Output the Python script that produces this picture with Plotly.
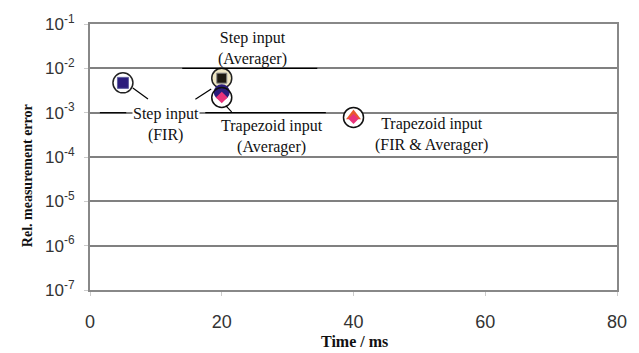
import plotly.graph_objects as go

# Data
fir_step_x = [5]
fir_step_y = [4.7e-3]
avg_step_x = [20]
avg_step_y = [6.0e-3]
avg_step2_x = [20]
avg_step2_y = [2.9e-3]
trap_avg_x = [20]
trap_avg_y = [2.2e-3]
trap_both_x = [40]
trap_both_y = [7.8e-4]

ytick_vals = [1e-7, 1e-6, 1e-5, 1e-4, 1e-3, 1e-2, 1e-1]
ytick_text = ["10<sup>-7</sup>", "10<sup>-6</sup>", "10<sup>-5</sup>", "10<sup>-4</sup>",
              "10<sup>-3</sup>", "10<sup>-2</sup>", "10<sup>-1</sup>"]
xtick_vals = [0, 20, 40, 60, 80]

navy = "#2b1d7c"
serif = "Liberation Serif, Times New Roman, serif"
fig = go.Figure()

def add(x, y, symbol, size, color, line_color=None, line_width=0):
    fig.add_trace(go.Scatter(x=x, y=y, mode="markers", showlegend=False, hoverinfo="skip",
                             marker=dict(symbol=symbol, size=size, color=color,
                                         line=dict(color=line_color or color, width=line_width))))

# step FIR
add(fir_step_x, fir_step_y, "circle", 20, "white", "#222", 1.5)
add(fir_step_x, fir_step_y, "square", 11, navy, "#6060a0", 1)
# step averager
add(avg_step_x, avg_step_y, "circle", 20, "#efe7c4", "#222", 1.5)
add(avg_step_x, avg_step_y, "square", 10, "#1e1a10", "#888", 1)
add(avg_step2_x, avg_step2_y, "circle", 16, navy)
# trapezoid averager
add(trap_avg_x, trap_avg_y, "circle", 20, "rgba(0,0,0,0)", "#111", 1.5)
add(trap_avg_x, trap_avg_y, "diamond", 9, "#e8337a")
# trapezoid FIR & averager
add(trap_both_x, trap_both_y, "circle", 20, "white", "#111", 1.5)
add(trap_both_x, [v * 1.08 for v in trap_both_y], "triangle-up", 13, "#e85a2c")
add(trap_both_x, [v * 0.93 for v in trap_both_y], "diamond", 8, "#e8337a")

def seg(x0, y0, x1, y1, w=1.2):
    fig.add_shape(type="line", x0=x0, y0=y0, x1=x1, y1=y1, xref="x", yref="y",
                  line=dict(color="black", width=w))

seg(14, 1e-2, 34.5, 1e-2)
seg(1.5, 1e-3, 5.5, 1e-3)
seg(17.5, 1e-3, 35.8, 1e-3)
seg(6.5, 3.6e-3, 8.8, 2.04e-3)
seg(16.0, 2.0e-3, 18.4, 3.4e-3)
seg(20.6, 1.44e-3, 21.5, 1.04e-3)

tf = dict(family=serif, size=16, color="#111")
fig.add_annotation(x=24.7, y=-1.55, xref="x", yref="y", text="Step input<br>(Averager)",
                   showarrow=False, font=tf, align="center")
fig.add_annotation(x=11.5, y=-3.27, xref="x", yref="y", text="Step input<br>(FIR)",
                   showarrow=False, font=tf, align="center", bgcolor="white", borderpad=0)
fig.add_annotation(x=27.7, y=-3.54, xref="x", yref="y", text="Trapezoid input<br>(Averager)",
                   showarrow=False, font=tf, align="center")
fig.add_annotation(x=51.8, y=-3.5, xref="x", yref="y", text="Trapezoid input<br>(FIR &amp; Averager)",
                   showarrow=False, font=tf, align="center")

# axis titles (paper coords are relative to the plot area: x 90..627, y 24..290)
px0, px1, py0, py1 = 90, 627, 24, 290
fig.add_annotation(x=(26 - px0) / (px1 - px0), y=(py1 - 176) / (py1 - py0), xref="paper", yref="paper",
                   textangle=-90, text="<b>Rel. measurement error</b>", showarrow=False,
                   font=dict(family=serif, size=14, color="#111"), xanchor="center", yanchor="middle")
fig.add_annotation(x=(360 - px0) / (px1 - px0), y=(py1 - 341) / (py1 - py0), xref="paper", yref="paper",
                   text="<b>Time / ms</b>", showarrow=False,
                   font=dict(family=serif, size=16, color="#111"), xanchor="center", yanchor="middle")

fig.update_layout(
    width=639, height=353,
    margin=dict(l=90, r=12, t=24, b=63),
    plot_bgcolor="white", paper_bgcolor="white",
    font=dict(family="Liberation Sans, Arial, sans-serif", size=17, color="#333"),
)
fig.update_xaxes(range=[0, 80], tickvals=xtick_vals, showgrid=False, zeroline=False,
                 showline=True, linecolor="#888", linewidth=2, mirror=True,
                 ticks="outside", ticklen=4, tickcolor="#ccc", ticklabelstandoff=10,
                 tickfont=dict(size=18))
fig.update_yaxes(type="log", range=[-7, -1], tickvals=ytick_vals, ticktext=ytick_text,
                 showgrid=True, gridcolor="#808080", gridwidth=2, zeroline=False,
                 showline=True, linecolor="#888", linewidth=2, mirror=True,
                 ticks="outside", ticklen=4, tickcolor="#ccc", ticklabelstandoff=6,
                 tickfont=dict(size=17))

fig.write_html("out.html")
